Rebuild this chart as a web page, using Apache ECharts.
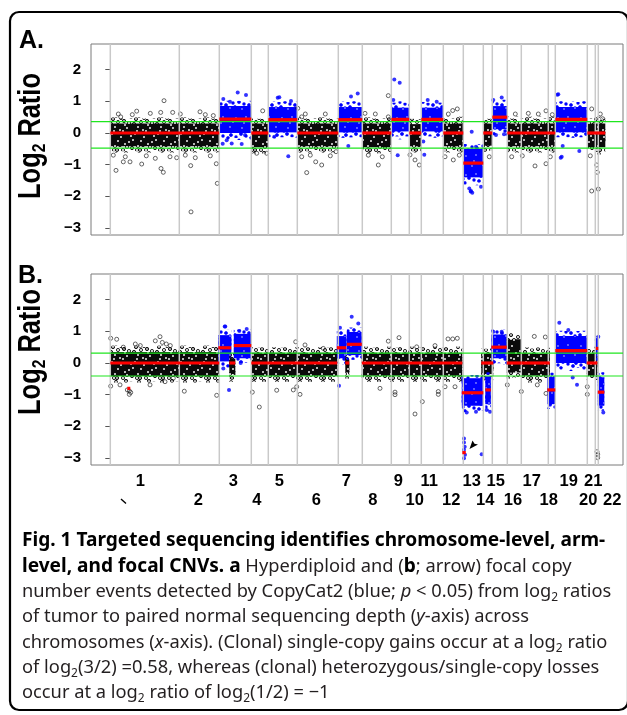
<!DOCTYPE html>
<html><head><meta charset="utf-8">
<script src="https://cdn.jsdelivr.net/npm/echarts@6/dist/echarts.min.js"></script>
<style>html,body{margin:0;padding:0;background:#fff}#c{width:627px;height:715px}</style>
</head><body><div id="c"></div>
<script>
// ---------------- data (x = probe-bin index along the genome, chr1 starts at 0) ----------------
const chrStarts = [0,69,109,141,158,187,228,252,281,299,311,333,353,373,382,397,411,438,445,477,485,488];
const chrLabels = ['1','2','3','4','5','6','7','8','9','10','11','12','13','14','15','16','17','18','19','20','21','22'];
const labelPos = [30,88,123,146.5,169,206,236,262.5,288,304.5,319,341,361.5,375,385.5,402.7,421.5,438.5,458.5,478,483,502];
const yTicks = [-3,-2,-1,0,1,2];
const thrA = [0.36,-0.48];
const thrB = [0.31,-0.41];

// segments: [start, end, mean log2 ratio, significant (1 = CopyCat2 call, blue)]
const segA = [[0,109,0,0],[109,141,0.44,1],[141,158,0,0],[158,187,0.42,1],[187,228,0,0],[228,252,0.42,1],
  [252,281,0,0],[281,299,0.43,1],[299,311,0,0],[311,333,0.43,1],[333,353,0,0],[353,373,-0.95,1],
  [373,382,0,0],[382,397,0.5,1],[397,445,0,0],[445,477,0.43,1],[477,495,0,0]];
// spread of each segment: [dense low, dense high, sparse low, sparse high]
const bandA = [[-0.42,0.3,-0.62,0.5],[0.0,0.85,-0.22,1.02],[-0.45,0.3,-0.65,0.45],[0.02,0.82,-0.15,1.0],
  [-0.42,0.3,-0.62,0.5],[0.02,0.82,-0.15,1.0],[-0.45,0.3,-0.65,0.5],[0.05,0.8,-0.2,1.0],[-0.42,0.28,-0.62,0.45],
  [0.05,0.8,-0.15,0.98],[-0.42,0.3,-0.62,0.52],[-1.4,-0.5,-1.65,-0.35],[-0.4,0.3,-0.6,0.45],[0.12,0.85,-0.08,1.05],
  [-0.42,0.3,-0.62,0.52],[0.02,0.82,-0.15,1.0],[-0.45,0.3,-0.68,0.52]];
const segB = [[0,109,0,0],[17,20,-0.8,0],[108,121,0.48,1],[119,125,0,0],[123.5,141,0.55,1],[141,227,0,0],
  [226.5,236,0.48,1],[235,239,0,0],[236.5,251.5,0.59,1],[251.5,352,0,0],[351.5,373,-0.94,1],[352,355.5,-2.83,1],
  [371,383,0,0],[375,380.5,-0.85,1],[381,396.5,0.5,1],[396.5,411,0,0],[411,439.5,0,0],[437,445,-0.85,1],
  [445,477,0.39,1],[476.5,487,0,0],[485.5,488,0.46,1],[487.5,494,-0.92,1]];
const bandB = [[-0.42,0.35,-0.62,0.55],null,[0.05,0.88,-0.2,1.05],[-0.35,0.15,-0.6,0.3],[0.15,0.92,0.0,1.05],
  [-0.4,0.32,-0.6,0.5],[0.15,0.85,-0.05,1.05],[-0.3,0.12,-0.5,0.25],[0.25,0.98,0.1,1.12],[-0.4,0.32,-0.6,0.52],
  [-1.35,-0.48,-1.55,-0.38],null,[-0.35,0.3,-0.55,0.45],[-1.3,-0.42,-1.5,-0.3],[0.15,0.9,-0.05,1.05],
  [-0.3,0.75,-0.5,0.95],[-0.4,0.3,-0.62,0.5],[-1.3,-0.45,-1.45,-0.3],[0.0,0.85,-0.25,1.02],[-0.4,0.3,-0.55,0.5],
  [0.2,0.75,0.05,0.85],[-1.35,-0.45,-1.5,-0.3]];

// individual outlying bins [x, log2 ratio]
const blackA = [[53.7,1.02],[5.7,-1.18],[31.4,-0.98],[50.7,-1.12],[53,-1.24],[80.4,-1.03],[80.7,-2.49],[106,-0.97],
  [107,-1.59],[13,-0.91],[19.7,-0.91],[59.7,-0.75],[66.4,-0.78],[10.4,0.51],[26.4,0.69],[50.4,0.65],[62.4,0.65],
  [89.7,0.67],[152.4,0.7],[146.4,-0.64],[156.4,-0.64],[196.4,-1.25],[211.4,-1.01],[205.4,-0.91],[191.4,-0.75],
  [225.7,-0.59],[187.4,0.78],[191.4,0.51],[268,-1.01],[254.7,0.62],[278,0.51],[278,1.18],[309,-1.01],[304.7,-0.85],
  [299.7,-0.69],[342.4,0.71],[347,0.76],[334.7,-0.75],[343,-0.85],[379,-0.75],[401.4,-0.75],[424.7,-1.04],
  [435.7,-0.97],[435.7,0.7],[481.4,0.76],[492.4,0.45],[481.4,-1.83],[488,-1.77],[487,-1.24],[486.4,-1.01],
  [3,-0.7],[8,0.6],[15,-0.75],[22,0.58],[36,-0.72],[40,0.62],[45,-0.8],[70,0.6],[75,-0.7],[85,-0.78],[95,0.58],
  [100,-0.72],[103,0.55],[195,0.6],[200,-0.7],[215,0.6],[220,-0.72],[258,-0.7],[265,0.6],[272,-0.75],[338,0.6],
  [349,-0.7],[405,0.6],[412,-0.72],[418,0.62],[428,0.6],[440,-0.75],[442,0.58],[480,-0.72],[490,0.6]];
const blueA = [[127.4,1.28],[113,1.07],[135.7,1.2],[119.7,0.99],[121.4,-0.33],[116.4,-0.23],[134.7,-0.06],
  [131.4,-0.35],[112.4,-0.34],[167.4,1.11],[180.7,1.01],[178,-0.73],[164,-0.12],[169,1.13],[247.4,1.25],
  [240.7,1.15],[238,-0.41],[283,1.04],[287.4,-0.7],[284,1.69],[289.4,1.59],[317.4,1.04],[326.4,0.99],[313,-0.27],
  [314,-0.69],[360.7,-1.83],[359,-1.75],[370.7,-1.7],[365.7,-0.43],[361.4,0.04],[360.4,-1.85],[362,-1.89],
  [391.4,1.12],[383,1.04],[385.7,-0.06],[393.7,-0.04],[447,1.21],[450.4,-0.78],[452.4,-0.41],[469,-0.57],
  [448,1.22],[451.4,-0.75]];
const blackB = [[0.4,-0.73],[0.4,0.78],[6.4,0.75],[49.7,0.83],[13,0.5],[19,-0.88],[19,-0.99],[17,-0.85],
  [20.4,-0.93],[74,-0.89],[106.4,-1.02],[142,-0.92],[149,-1.39],[54.7,-0.59],[63,-0.48],[39.7,-0.69],[9.7,-0.69],
  [166.4,-0.86],[189.7,-0.99],[183,-0.85],[186.4,-0.75],[269.7,-0.8],[284.7,-0.92],[284.7,-1.0],[304.7,-1.61],
  [312,-1.22],[328,-0.9],[328,-0.99],[185.4,0.67],[194.7,0.57],[278,0.69],[288.7,0.8],[306.4,0.51],[324.7,0.55],
  [213,0.46],[337.7,0.76],[342.4,0.76],[347,0.78],[424,0.84],[435,0.82],[411,-0.9],[427,-0.69],[435.7,-0.96],
  [477,-0.75],[477,-0.99],[334.7,-0.75],[344.7,-0.75],[397,-0.69],[487.4,-2.88],[487.4,-2.99],[486.7,-2.8],
  [45,0.7],[52,0.65],[56,0.6],[60,0.55],[30,0.55],[25,0.6]];
const blueB = [[118.7,-0.85],[114.4,1.15],[115,1.15],[136.4,1.07],[129,1.01],[113,-0.17],[130.4,0.0],
  [228.7,-0.72],[241.4,1.46],[248,1.25],[229.7,1.11],[449,1.27],[466.7,-0.69],[462.4,-0.46],[458,1.04],
  [356.4,-1.56],[365.7,-1.54],[391.4,0.99],[383,0.99],[486.4,0.73],[486.4,0.51],[488,0.83],[493,-1.56],
  [439.7,-1.32],[376.4,-1.48],[379.7,-1.54],[353.7,-2.38],[353.7,-2.51],[354.4,-2.64],[353.7,-2.74],
  [354.7,-2.9],[353.7,-3.01],[371.4,-2.88]];

// ---------------- styling helpers (texture of the dense point clouds) ----------------
const TW = 23, TH = 19;
const TEX = [[1,2],[6,4],[11,1],[16,3],[21,5],[3,8],[9,7],[14,9],[19,10],[0,13],[5,12],[12,14],[17,15],[22,17],[8,17],[2,17]];
const TEX_SPECK = [[6,4],[16,3],[3,8],[14,9],[0,13],[12,14],[22,17],[8,17],[20,1],[10,11],[18,7],[5,16]];
const TEX_HALO = [[1,2],[11,1],[21,5],[9,7],[19,10],[5,12],[17,15],[2,17]];
function tile(bg, pts, r, mode, color, lw) {
  const c = document.createElement('canvas'); c.width = TW; c.height = TH;
  const g = c.getContext('2d');
  if (bg) { g.fillStyle = bg; g.fillRect(0, 0, TW, TH); }
  pts.forEach(p => {
    [-TW, 0, TW].forEach(dx => [-TH, 0, TH].forEach(dy => {
      g.beginPath(); g.arc(p[0] + dx, p[1] + dy, r, 0, Math.PI * 2);
      if (mode === 'stroke') { g.strokeStyle = color; g.lineWidth = lw; g.stroke(); }
      else { g.fillStyle = color; g.fill(); }
    }));
  });
  return { image: c, repeat: 'repeat' };
}
const PAT = {
  k: [tile(null, TEX_HALO, 1.5, 'stroke', '#222', 0.85), tile(null, TEX, 1.55, 'stroke', '#111', 0.95),
      tile('#0a0a0a', TEX_SPECK, 0.95, 'fill', '#fff')],
  b: [tile(null, TEX_HALO, 1.6, 'fill', '#0000ff'), tile(null, TEX, 1.7, 'fill', '#0000ff'),
      tile('#0000ff', TEX_SPECK.slice(0, 6), 0.65, 'fill', '#fff')]
};
const FUZZ = 5; // px width of the medium-density fringe around a dense cloud

const BOLD = "'Liberation Sans', Arial, sans-serif";
const YMIN = -3.22, YMAX = 2.81, XMIN = -19.3, XMAX = 512.7;

function bandSeries(i, segs, bands) {
  const data = [];
  segs.forEach((s, k) => { const b = bands[k]; if (b) data.push([s[0], s[1], b[0], b[1], b[2], b[3], s[3]]); });
  return { type: 'custom', xAxisIndex: i === 0 ? 0 : 1, yAxisIndex: i, data, z: 2, silent: true,
    encode: { x: [0, 1], y: [2, 3] },
    renderItem(params, api) {
      const x0 = api.value(0), x1 = api.value(1), p = PAT[api.value(6) === 1 ? 'b' : 'k'];
      const h0 = api.coord([x0, api.value(5)]), h1 = api.coord([x1, api.value(4)]);
      const c0 = api.coord([x0, api.value(3)]), c1 = api.coord([x1, api.value(2)]);
      const mTop = Math.max(h0[1], c0[1] - FUZZ), mBot = Math.min(h1[1], c1[1] + FUZZ);
      const rect = (y0, y1, f) => ({ type: 'rect', shape: { x: c0[0], y: y0, width: c1[0] - c0[0], height: y1 - y0 }, style: { fill: f } });
      return { type: 'group', children: [rect(h0[1], h1[1], p[0]), rect(mTop, mBot, p[1]), rect(c0[1], c1[1], p[2])] };
    } };
}
function segSeries(i, segs) {
  return { type: 'custom', xAxisIndex: i === 0 ? 0 : 1, yAxisIndex: i, data: segs, z: 6, silent: true,
    renderItem(params, api) {
      const a = api.coord([api.value(0), api.value(2)]), b = api.coord([api.value(1), api.value(2)]);
      return { type: 'line', shape: { x1: a[0], y1: a[1], x2: b[0], y2: b[1] }, style: { stroke: '#ff0000', lineWidth: 3.2 } };
    } };
}
function vlineSeries(i) {
  return { type: 'custom', xAxisIndex: i === 0 ? 0 : 1, yAxisIndex: i, data: chrStarts.map(v => [v, 0]), z: 4, silent: true,
    renderItem(params, api) {
      const cs = params.coordSys, p = api.coord([api.value(0), 0]);
      return { type: 'line', shape: { x1: p[0], y1: cs.y, x2: p[0], y2: cs.y + cs.height }, style: { stroke: '#c9c9c9', lineWidth: 1.5 } };
    } };
}
function hlineSeries(i, vals) {
  return { type: 'custom', xAxisIndex: i === 0 ? 0 : 1, yAxisIndex: i, data: vals.map(v => [0, v]), z: 5, silent: true,
    renderItem(params, api) {
      const cs = params.coordSys, p = api.coord([0, api.value(1)]);
      return { type: 'line', shape: { x1: cs.x, y1: p[1], x2: cs.x + cs.width, y2: p[1] }, style: { stroke: '#1ee61e', lineWidth: 1.2 } };
    } };
}
function dots(i, data, blue) {
  return { type: 'scatter', xAxisIndex: i === 0 ? 0 : 1, yAxisIndex: i, data, z: 3, silent: true, symbolSize: 4,
    itemStyle: blue ? { color: '#0000ff' } : { color: 'rgba(255,255,255,0)', borderColor: '#111', borderWidth: 0.8 } };
}
function yAxisCfg(g) {
  return { type: 'value', gridIndex: g, min: YMIN, max: YMAX, axisLine: { show: false }, splitLine: { show: false },
    axisTick: { show: true, customValues: yTicks, length: 5, lineStyle: { color: '#555', width: 1 } },
    axisLabel: { customValues: yTicks, margin: 10, color: '#000', fontFamily: BOLD, fontWeight: 'bold', fontSize: 15,
      formatter: v => v < 0 ? '\u2212' + (-v) : String(v) } };
}
function xAxisCfg(g, show, odd, offset) {
  const vals = labelPos.filter((v, k) => (k % 2 === 0) === odd);
  return { type: 'value', gridIndex: g, position: 'bottom', min: XMIN, max: XMAX, offset: offset || 0, axisLine: { show: false },
    axisTick: { show: false }, splitLine: { show: false },
    axisLabel: show ? { customValues: vals, margin: 8, color: '#000', fontFamily: BOLD, fontWeight: 'bold', fontSize: 16.5,
      formatter: v => chrLabels[labelPos.indexOf(v)] } : { show: false } };
}

const CAP = "'Noto Sans', 'Open Sans', sans-serif";
const FS = 18.3, LH = 24;
const rich = {
  b: { fontFamily: CAP, fontWeight: 'bold', fontSize: 19.1, lineHeight: LH, fill: '#000' },
  n: { fontFamily: CAP, fontSize: FS, lineHeight: LH, fill: '#231f20' },
  i: { fontFamily: CAP, fontStyle: 'italic', fontSize: FS, lineHeight: LH, fill: '#231f20' },
  s: { fontFamily: CAP, fontSize: 12, lineHeight: 13, verticalAlign: 'bottom', fill: '#231f20' }
};
const capLines = [
  '{b|Fig. 1 Targeted sequencing identifies chromosome-level, arm-}',
  '{b|level, and focal CNVs. a}{n| Hyperdiploid and (}{b|b}{n|; arrow) focal copy}',
  '{n|number events detected by CopyCat2 (blue; }{i|p}{n| < 0.05) from log}{s|2}{n| ratios}',
  '{n|of tumor to paired normal sequencing depth (}{i|y}{n|-axis) across}',
  '{n|chromosomes (}{i|x}{n|-axis). (Clonal) single-copy gains occur at a log}{s|2}{n| ratio}',
  '{n|of log}{s|2}{n|(3/2) =0.58, whereas (clonal) heterozygous/single-copy losses}',
  '{n|occur at a log}{s|2}{n| ratio of log}{s|2}{n|(1/2) = \u22121}'
];
const capY = [541, 566.5, 592, 617, 642.5, 668, 693];

const yName = (cy) => ({ type: 'text', x: 31, y: cy, rotation: Math.PI / 2, scaleX: 0.82, silent: true,
  style: { text: '{m|Log}{s|2}{m| Ratio}', align: 'center', verticalAlign: 'middle',
    rich: { m: { fontFamily: BOLD, fontWeight: 'bold', fontSize: 31, lineHeight: 36, fill: '#000' },
            s: { fontFamily: BOLD, fontWeight: 'bold', fontSize: 19, lineHeight: 4, verticalAlign: 'bottom', fill: '#000' } } } });

const graphic = [
  { type: 'rect', shape: { x: 10, y: 12, width: 618, height: 698, r: 9 }, style: { fill: 'none', stroke: '#000', lineWidth: 2.2 }, silent: true },
  { type: 'text', x: 19, y: 41, silent: true, style: { text: 'A.', font: 'bold 25px "Liberation Sans", Arial', fill: '#000', verticalAlign: 'middle' } },
  { type: 'text', x: 18, y: 276, silent: true, style: { text: 'B.', font: 'bold 25px "Liberation Sans", Arial', fill: '#000', verticalAlign: 'middle' } },
  yName(136), yName(352),
  { type: 'polygon', shape: { points: [[469.5, 449], [472.5, 440.5], [474.5, 443.8], [478, 444.5]] }, style: { fill: '#000' }, silent: true },
  { type: 'line', shape: { x1: 121, y1: 499, x2: 126, y2: 503.5 }, style: { stroke: '#000', lineWidth: 1.4 }, silent: true }
].concat(capLines.map((t, k) => ({ type: 'text', x: 22, y: capY[k], silent: true,
  style: { text: t, rich, verticalAlign: 'middle', align: 'left' } })));

const chart = echarts.init(document.getElementById('c'), null, { renderer: 'canvas' });
chart.setOption({
  animation: false,
  backgroundColor: '#fff',
  grid: [
    { left: 91, top: 44, width: 532, height: 191, show: true, borderColor: '#7a7a7a', borderWidth: 1, backgroundColor: 'transparent' },
    { left: 91, top: 274, width: 532, height: 191, show: true, borderColor: '#7a7a7a', borderWidth: 1, backgroundColor: 'transparent' }
  ],
  xAxis: [xAxisCfg(0, false, true), xAxisCfg(1, true, true, 0), xAxisCfg(1, true, false, 19)],
  yAxis: [yAxisCfg(0), yAxisCfg(1)],
  series: [
    vlineSeries(0), vlineSeries(1),
    bandSeries(0, segA, bandA), bandSeries(1, segB, bandB),
    dots(0, blackA, false), dots(0, blueA, true), dots(1, blackB, false), dots(1, blueB, true),
    hlineSeries(0, thrA), hlineSeries(1, thrB),
    segSeries(0, segA), segSeries(1, segB)
  ],
  graphic
});
</script></body></html>
